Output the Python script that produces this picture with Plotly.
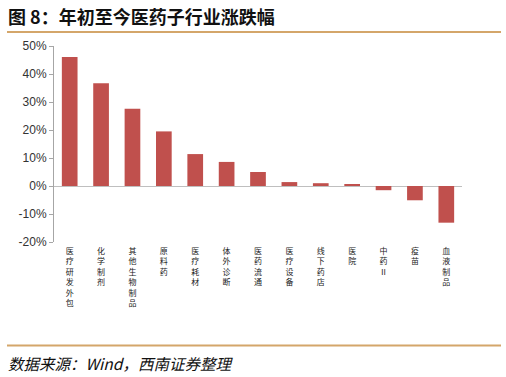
import plotly.graph_objects as go

categories = ["医疗研发外包", "化学制剂", "其他生物制品", "原料药", "医疗耗材", "体外诊断",
              "医药流通", "医疗设备", "线下药店", "医院", "中药Ⅱ", "疫苗", "血液制品"]
values = [46.1, 36.7, 27.6, 19.5, 11.4, 8.6, 5.0, 1.4, 1.0, 0.7, -1.5, -5.1, -13.1]
y_ticks = [-20, -10, 0, 10, 20, 30, 40, 50]
y_tick_labels = [f"{v}%" for v in y_ticks]

title_text = "<b>图 8：年初至今医药子行业涨跌幅</b>"
source_text = "<i>数据来源：Wind，西南证券整理</i>"

W, H = 506, 377
L, R, T, B = 54, 462, 46, 242

def px(x):
    return (x - L) / (R - L)

def py(y):
    return (B - y) / (B - T)

fig = go.Figure()
fig.add_trace(go.Bar(
    x=list(range(len(categories))),
    y=values,
    marker=dict(color="#C0504D", line=dict(width=0)),
    width=0.5,
))

fig.update_layout(
    width=W, height=H,
    margin=dict(l=L, r=W - R, t=T, b=H - B),
    paper_bgcolor="white", plot_bgcolor="white",
    showlegend=False,
    xaxis=dict(
        range=[-0.5, len(categories) - 0.5],
        tickmode="array",
        tickvals=list(range(len(categories))),
        ticktext=["<br>".join(list(c)) for c in categories],
        showline=False, showgrid=False, zeroline=False, ticks="",
        tickfont=dict(family="Noto Sans CJK SC", size=8, color="#222222"),
        tickangle=0,
        ticklabelstandoff=3,
    ),
    yaxis=dict(
        range=[-20, 50],
        tickmode="array",
        tickvals=y_ticks,
        ticktext=y_tick_labels,
        showgrid=False,
        zeroline=True, zerolinecolor="#BFBFBF", zerolinewidth=1,
        showline=True, linecolor="#A6A6A6", linewidth=1,
        ticks="outside", ticklen=4, tickcolor="#A6A6A6",
        tickfont=dict(family="Liberation Sans, Arial", size=12, color="#333333"),
    ),
    font=dict(family="Noto Sans CJK SC"),
)

fig.add_annotation(
    text=title_text, xref="paper", yref="paper",
    x=px(6), y=py(16), xanchor="left", yanchor="middle",
    showarrow=False,
    font=dict(family="Noto Sans CJK SC", size=18, color="#111111"),
)
fig.add_annotation(
    text=source_text, xref="paper", yref="paper",
    x=px(6), y=py(363), xanchor="left", yanchor="middle",
    showarrow=False,
    font=dict(family="Noto Sans CJK SC", size=15.5, color="#111111"),
)

line_color = "#D4A66A"
fig.add_shape(type="line", xref="paper", yref="paper",
              x0=px(7), x1=px(501), y0=py(32), y1=py(32),
              line=dict(color=line_color, width=2))
fig.add_shape(type="line", xref="paper", yref="paper",
              x0=px(7), x1=px(501), y0=py(345.5), y1=py(345.5),
              line=dict(color=line_color, width=2))

fig.write_html("out.html",
               config={"displayModeBar": False},
               post_script="document.body.style.margin='0';document.body.style.overflow='hidden';")
